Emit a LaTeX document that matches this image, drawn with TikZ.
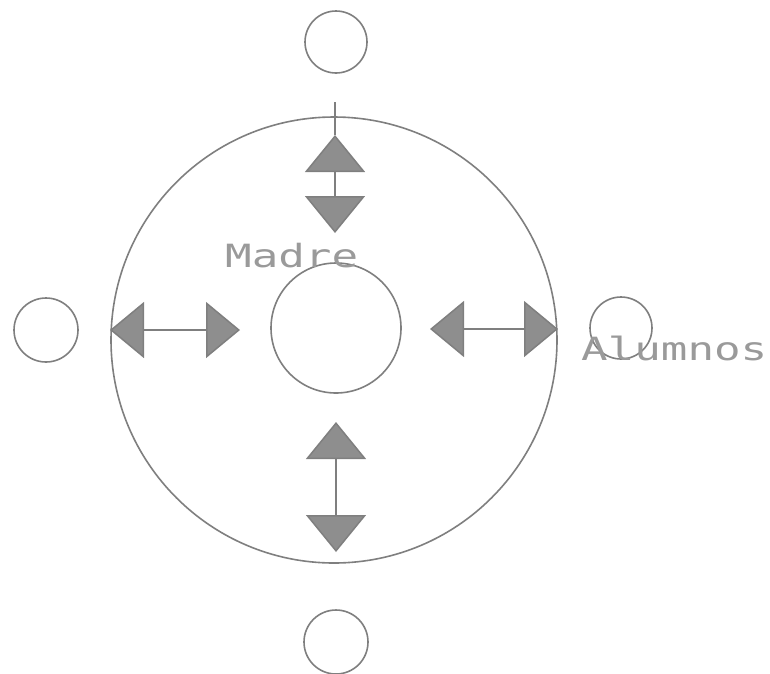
\documentclass[tikz,border=0pt]{standalone}
\usepackage{fontspec}
\usepackage{graphicx}
\usetikzlibrary{arrows.meta}
\newfontfamily\pixfont{DejaVu Sans Mono}
\definecolor{ink}{HTML}{7F7F7F}
\definecolor{fillg}{HTML}{8E8E8E}
\definecolor{txt}{HTML}{9A9A9A}
\begin{document}
\begin{tikzpicture}[x=1pt,y=-1pt,
  ring/.style={circle, draw=ink, line width=1.6pt, inner sep=0pt, minimum size=#1},
  lab/.style={text=txt, font=\pixfont\fontsize{32}{32}\selectfont, inner sep=0pt},
  stem/.style={draw=ink, line width=1.5pt},
  vdbl/.style={draw=ink, line width=1.5pt,
    {Triangle[width=60pt,length=37pt,fill=fillg]}-{Triangle[width=60pt,length=37pt,fill=fillg]}},
  hdbl/.style={draw=ink, line width=1.5pt,
    {Triangle[width=56pt,length=34pt,fill=fillg]}-{Triangle[width=56pt,length=34pt,fill=fillg]}}]
\useasboundingbox (0,0) rectangle (770,673);
% circles
\node[ring=446pt] (outer) at (334,340) {};
\node[ring=130pt] (inner) at (336,328) {};
\node[ring=62pt] (top) at (336,42) {};
\node[ring=64pt] (left) at (46,330) {};
\node[ring=62pt] (right) at (621,328) {};
\node[ring=64pt] (bottom) at (336,642) {};
% arrow end points
\coordinate (t0) at (335,102);
\coordinate (t1) at (335,135);
\coordinate (t2) at (335,233);
\coordinate (b1) at (336,422);
\coordinate (b2) at (336,552);
\coordinate (l1) at (110,330);
\coordinate (l2) at (240,330);
\coordinate (r1) at (430,329);
\coordinate (r2) at (558,329);
% arrows
\draw[stem] (t0) -- (t1);
\draw[vdbl] (t1) -- (t2);
\draw[vdbl] (b1) -- (b2);
\draw[hdbl] (l1) -- (l2);
\draw[hdbl] (r1) -- (r2);
% labels
\node[lab, anchor=base west] (madre) at (225,267) {\scalebox{1.38}[1]{Madre}};
\node[lab, anchor=base west] (alumnos) at (581,360) {\scalebox{1.38}[1]{Alumnos}};
\end{tikzpicture}
\end{document}
